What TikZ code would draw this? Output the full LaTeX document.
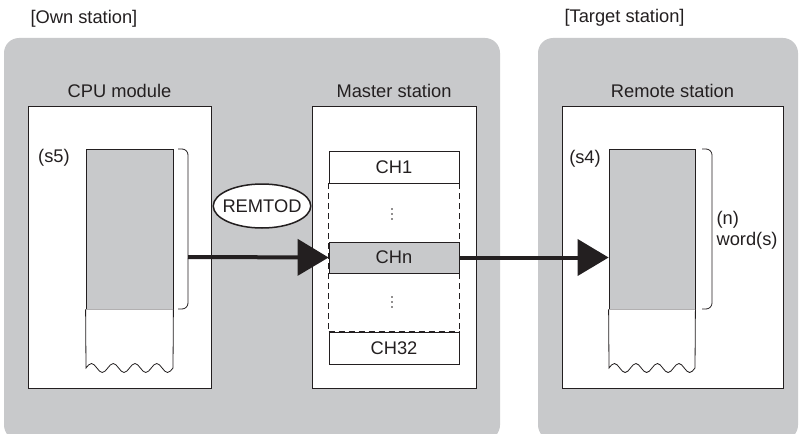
\documentclass[tikz,border=0pt]{standalone}
\usepackage{fontspec}
\setmainfont{Liberation Sans}
\usetikzlibrary{positioning,shapes.geometric,arrows.meta}
\definecolor{panelgray}{HTML}{C8C9CB}
\definecolor{ink}{HTML}{231F20}

\begin{document}
\begin{tikzpicture}[x=1pt, y=-1pt,
    every node/.append style={text=ink, font=\fontsize{18.3}{21}\selectfont},
    box/.style={draw=ink, line width=0.8pt, fill=white, inner sep=0pt},
    mem/.style={draw=ink, line width=0.8pt, fill=panelgray, inner sep=0pt},
    title/.style={anchor=west},
    flow/.style={line width=4pt, color=ink, -{Triangle[length=31pt,width=36pt]}},
    bracket/.style={draw=ink, line width=0.8pt, rounded corners=6pt},
    dashline/.style={ink, line width=0.8pt, dash pattern=on 6pt off 4pt}]
    \useasboundingbox (0,0) rectangle (799,433);
    % station panels
    \fill[panelgray, rounded corners=15pt] (4,38) rectangle (500,440);
    \fill[panelgray, rounded corners=15pt] (538,38) rectangle (798,440);
    \node[title] (own) at (27,19) {[Own station]};
    \node[title] (target) at (561,18) {[Target station]};
    % module boxes
    \node[box, minimum width=183pt, minimum height=282pt] (cpu) at (119.5,247) {};
    \node[box, minimum width=164pt, minimum height=282pt] (master) at (394,247) {};
    \node[box, minimum width=221pt, minimum height=282pt] (remote) at (672.5,247) {};
    \node (cpulbl) at (119.5,91) {CPU module};
    \node (masterlbl) at (394,91) {Master station};
    \node (remotelbl) at (672.5,91) {Remote station};
    % CPU device area (s5)
    \node[mem, minimum width=87pt, minimum height=160pt] (smem) at (129.5,229) {};
    \draw[ink, line width=0.8pt, fill=white] (smem.south west) -- (86,368)
      \foreach \i in {0,...,3} {
        sin ({86+21.75*\i+5.44},363.5) cos ({86+21.75*\i+10.88},368)
        sin ({86+21.75*\i+16.31},372.5) cos ({86+21.75*\i+21.75},368)}
      -- (smem.south east);
    \node (s5) at (54,158) {(s5)};
    \draw[bracket] (178,149) -- (188,149) -- (188,309) -- (178,309);
    \coordinate (sbr) at (188,257);
    \node[draw=ink, line width=1.5pt, fill=white, ellipse, inner xsep=-5pt, inner ysep=9pt,
      minimum width=96pt, minimum height=44pt] (remtod) at (262,206) {REMTOD};
    % master station channels
    \node[box, minimum width=130pt, minimum height=32pt] (ch1) at (394,167) {CH1};
    \node[mem, minimum width=130pt, minimum height=31pt] (chn) at (394,257.5) {CHn};
    \node[box, minimum width=130pt, minimum height=32pt] (ch32) at (394,348) {CH32};
    \draw[dashline] (ch1.south west) -- (ch32.north west);
    \draw[dashline] (ch1.south east) -- (ch32.north east);
    \draw[dashline] (ch1.south west) -- (ch1.south east);
    \draw[dashline] (ch32.north west) -- (ch32.north east);
    \foreach \y in {209,214,219} {
      \fill[ink] (392,\y) circle (0.9pt);
      \fill[ink] (392,\y+88) circle (0.9pt);
    }
    % remote device area (s4)
    \node[mem, minimum width=86pt, minimum height=160pt] (rmem) at (652,229) {};
    \draw[ink, line width=0.8pt, fill=white] (rmem.south west) -- (609,368)
      \foreach \i in {0,...,3} {
        sin ({609+21.5*\i+5.375},363.5) cos ({609+21.5*\i+10.75},368)
        sin ({609+21.5*\i+16.125},372.5) cos ({609+21.5*\i+21.5},368)}
      -- (rmem.south east);
    \node (s4) at (585,159) {(s4)};
    \draw[bracket] (702,149) -- (712,149) -- (712,309) -- (702,309);
    \node[anchor=west, align=left] (words) at (713,230) {(n)\\word(s)};
    % data flow
    \draw[flow] (sbr) -- (chn.west);
    \draw[flow] (chn.east) -- (chn.east -| rmem.west);
\end{tikzpicture}
\end{document}
